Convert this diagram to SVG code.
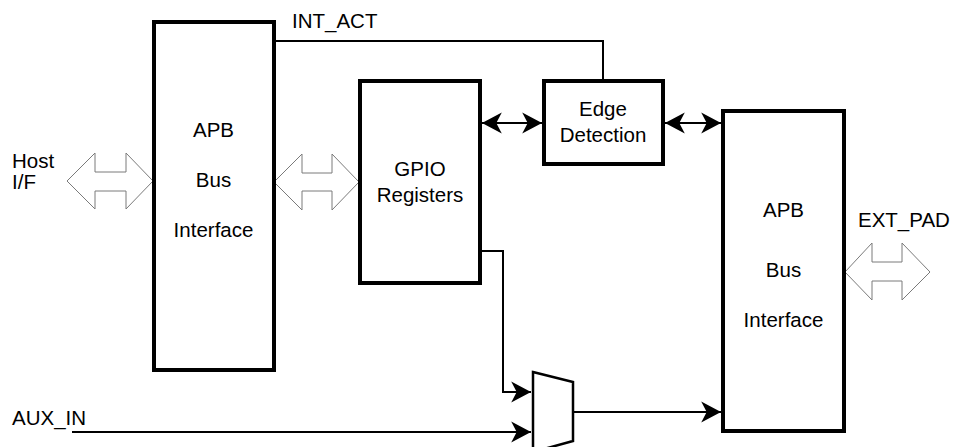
<svg xmlns="http://www.w3.org/2000/svg" width="956" height="447" viewBox="0 0 956 447">
<style>
.box{fill:#fff;stroke:#000;stroke-width:4}
.t{font-family:"Liberation Sans",Arial,sans-serif;font-size:20.5px;fill:#000}
.c{text-anchor:middle}
.w{fill:none;stroke:#000;stroke-width:2}
.bus{fill:#fff;stroke:#7a7a7a;stroke-width:1}
</style>
<defs>
<marker id="ah" markerUnits="userSpaceOnUse" markerWidth="22" markerHeight="22" viewBox="0 0 20 20" refX="18" refY="10" orient="auto-start-reverse">
<path d="M0,0.5 L18,10 L0,19.5 L5,10 Z" fill="#000"/>
</marker>
</defs>
<rect width="956" height="447" fill="#fff"/>
<g id="connectors">
<polyline class="w" points="274,41 603,41 603,81"/>
<line class="w" x1="482" y1="123" x2="542" y2="123" marker-start="url(#ah)" marker-end="url(#ah)"/>
<line class="w" x1="665" y1="123" x2="721" y2="123" marker-start="url(#ah)" marker-end="url(#ah)"/>
<polyline class="w" points="482,251 503,251 503,392 531,392" marker-end="url(#ah)"/>
<line class="w" x1="72" y1="432" x2="531" y2="432" marker-end="url(#ah)"/>
<line class="w" x1="574" y1="412" x2="721" y2="412" marker-end="url(#ah)"/>
<polygon class="bus" points="67,181 95,153 95,172 126,172 126,153 153,181 126,209 126,191 95,191 95,209"/>
<polygon class="bus" points="274,182 302,154 302,173 332,173 332,154 359,182 332,210 332,191 302,191 302,210"/>
<polygon class="bus" points="845,272 872,243 872,262 902,262 902,243 930,272 902,300 902,281 872,281 872,300"/>
</g>
<g id="apb_left">
<rect class="box" x="154" y="22" width="120" height="348"/>
<text class="t c" x="213.5" y="137">APB</text>
<text class="t c" x="213.5" y="187">Bus</text>
<text class="t c" x="213.5" y="237">Interface</text>
</g>
<g id="gpio">
<rect class="box" x="360" y="81" width="120" height="202"/>
<text class="t c" x="420" y="176">GPIO</text>
<text class="t c" x="420" y="202">Registers</text>
</g>
<g id="edge">
<rect class="box" x="544" y="81" width="119" height="83"/>
<text class="t c" x="603" y="116">Edge</text>
<text class="t c" x="603" y="142">Detection</text>
</g>
<g id="apb_right">
<rect class="box" x="723" y="111" width="121" height="320"/>
<text class="t c" x="783.5" y="217">APB</text>
<text class="t c" x="783.5" y="277">Bus</text>
<text class="t c" x="783.5" y="327">Interface</text>
</g>
<g id="mux">
<polygon points="533,372 573,382 573,441 533,452" fill="#fff" stroke="#000" stroke-width="2.5"/>
</g>
<g id="labels">
<text class="t" x="292" y="28">INT_ACT</text>
<text class="t" x="12" y="168">Host</text>
<text class="t" x="12" y="189">I/F</text>
<text class="t" x="858" y="227">EXT_PAD</text>
<text class="t" x="12" y="425">AUX_IN</text>
</g>
</svg>
